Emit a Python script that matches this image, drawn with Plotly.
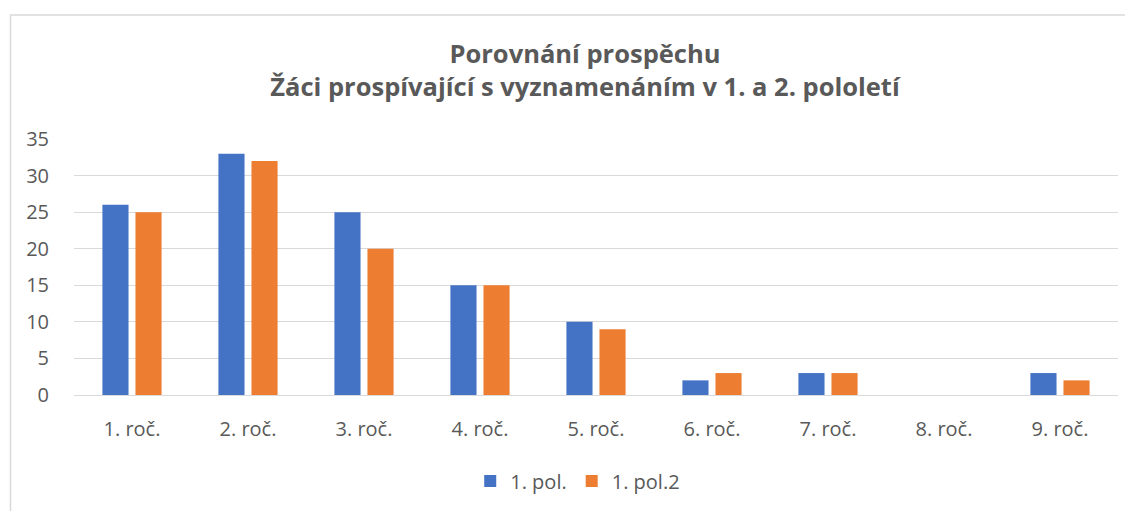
import plotly.graph_objects as go

categories = ["1. roč.", "2. roč.", "3. roč.", "4. roč.", "5. roč.", "6. roč.", "7. roč.", "8. roč.", "9. roč."]
pol1 = [26, 33, 25, 15, 10, 2, 3, 0, 3]
pol2 = [25, 32, 20, 15, 9, 3, 3, 0, 2]
series_names = ["1. pol.", "1. pol.2"]
colors = ["#4472C4", "#ED7D31"]

OFF = 8  # page body margin
W, H = 1133 - OFF, 511 - OFF
ml, mr, mt, mb = 74 - OFF, 15, 139 - OFF, 115
pw, ph = W - ml - mr, H - mt - mb

def px_x(p):
    return (p - OFF - ml) / pw

def px_y(p):
    return (H - mb - (p - OFF)) / ph

fig = go.Figure()
for name, vals, c in zip(series_names, [pol1, pol2], colors):
    fig.add_trace(go.Bar(x=categories, y=vals, name=name, marker=dict(color=c, line=dict(width=0))))

font_family = "Open Sans, Liberation Sans, sans-serif"
fig.update_layout(
    width=W, height=H,
    margin=dict(l=ml, r=mr, t=mt, b=mb),
    paper_bgcolor="white", plot_bgcolor="white",
    barmode="group", bargap=0.43, bargroupgap=0.21,
    font=dict(family=font_family, color="#595959", size=20),
    title=dict(
        text="<b>Porovnání prospěchu<br>Žáci prospívající s vyznamenáním v 1. a 2. pololetí</b>",
        x=(585 - OFF) / W, xanchor="center", y=(H - (62.5 - OFF)) / H, yanchor="middle",
        font=dict(size=25.5, color="#595959", family=font_family),
    ),
    xaxis=dict(showgrid=False, showline=False, ticks="", tickfont=dict(size=20, color="#595959"),
               ticklabelstandoff=20),
    yaxis=dict(range=[0, 35], dtick=5, showgrid=True, gridcolor="#D9D9D9", gridwidth=1,
               zeroline=True, zerolinecolor="#D9D9D9", zerolinewidth=1,
               showline=False, ticks="", tickfont=dict(size=20, color="#595959"), ticklabelstandoff=24),
    legend=dict(orientation="h", x=0.4825, xanchor="center", y=px_y(481), yanchor="middle",
                font=dict(size=20, color="#595959"), itemwidth=30, traceorder="normal"),
    showlegend=True,
    shapes=[dict(type="rect", xref="paper", yref="paper",
                 x0=px_x(10.5), x1=px_x(1145), y0=px_y(14.5), y1=px_y(530),
                 line=dict(color="#D9D9D9", width=1.5), layer="below")],
)
fig.write_html("out.html")
